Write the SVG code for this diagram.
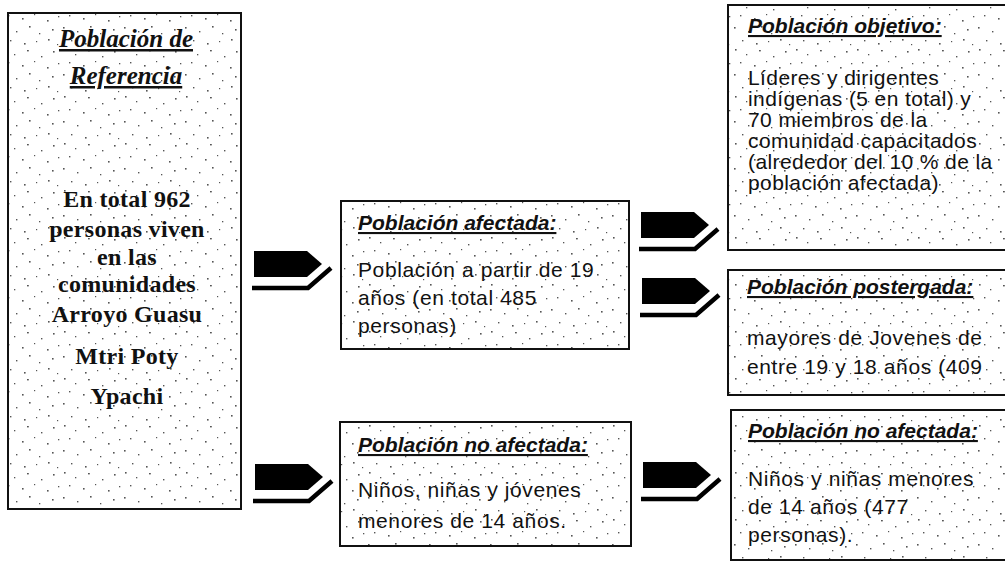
<svg xmlns="http://www.w3.org/2000/svg" width="1005" height="564" viewBox="0 0 1005 564">
<style>
.box{fill:url(#speckle);stroke:#111;stroke-width:2}
.ser{font-family:"Liberation Serif","Times New Roman",serif;font-weight:bold;fill:#111}
.ttl{font-style:italic;font-size:25px;text-decoration:underline}
.body{font-size:24px;letter-spacing:0.3px}
.sans{font-family:"Liberation Sans",Arial,sans-serif;fill:#111}
.h{font-weight:bold;font-style:italic;font-size:21px;text-decoration:underline}
.t{font-size:21px;letter-spacing:0.6px}
.t2{font-size:21px;letter-spacing:0.4px}
.arr{fill:#000}
.sh{fill:none;stroke:#000;stroke-width:4.5;stroke-linejoin:miter}
</style>
<defs>
<pattern id="speckle" width="61" height="47" patternUnits="userSpaceOnUse">
<rect width="61" height="47" fill="#fff"/>
<g fill="#555">
<rect x="3" y="2" width="1.6" height="1.6"/>
<rect x="14" y="7" width="1.3" height="1.3"/>
<rect x="27" y="3" width="1.8" height="1.4"/>
<rect x="41" y="9" width="1.4" height="1.4"/>
<rect x="53" y="4" width="1.6" height="1.6"/>
<rect x="8" y="15" width="1.4" height="1.4"/>
<rect x="22" y="18" width="1.6" height="1.6"/>
<rect x="34" y="14" width="1.2" height="1.2"/>
<rect x="47" y="20" width="1.6" height="1.6"/>
<rect x="58" y="16" width="1.3" height="1.3"/>
<rect x="2" y="27" width="1.6" height="1.6"/>
<rect x="16" y="31" width="1.4" height="1.4"/>
<rect x="29" y="26" width="1.6" height="1.6"/>
<rect x="39" y="33" width="1.3" height="1.3"/>
<rect x="52" y="29" width="1.6" height="1.6"/>
<rect x="10" y="40" width="1.4" height="1.4"/>
<rect x="24" y="43" width="1.6" height="1.6"/>
<rect x="36" y="41" width="1.2" height="1.2"/>
<rect x="48" y="39" width="1.6" height="1.6"/>
<rect x="57" y="44" width="1.2" height="1.2"/>
</g>
</pattern>
<g id="arrow">
<path class="arr" d="M0,0 H53 L68,13 L53,26 H0 Z"/>
<path class="sh" d="M-2,37 H54 L77,17"/>
</g>
</defs>
<rect width="1005" height="564" fill="#fff"/>

<g id="connectors">
<use href="#arrow" transform="translate(254,251)"/>
<use href="#arrow" transform="translate(255,464)"/>
<use href="#arrow" transform="translate(641,212)"/>
<use href="#arrow" transform="translate(642,278)"/>
<use href="#arrow" transform="translate(643,462)"/>
</g>

<g id="node-referencia">
<rect class="box" x="8" y="13" width="233" height="496"/>
<text class="ser ttl" x="126" y="47" text-anchor="middle">Población de</text>
<text class="ser ttl" x="126" y="84" text-anchor="middle">Referencia</text>
<g class="ser body" text-anchor="middle">
<text x="127" y="207">En total 962</text>
<text x="127" y="237">personas viven</text>
<text x="127" y="265">en las</text>
<text x="127" y="292">comunidades</text>
<text x="127" y="322">Arroyo Guasu</text>
<text x="127" y="364">Mtri Poty</text>
<text x="127" y="404">Ypachi</text>
</g>
</g>

<g id="node-afectada">
<rect class="box" x="341" y="201" width="288" height="148"/>
<text class="sans h" x="358" y="230">Población afectada:</text>
<g class="sans t">
<text x="358" y="277">Población a partir de 19</text>
<text x="358" y="305">años (en total 485</text>
<text x="358" y="333">personas)</text>
</g>
</g>

<g id="node-no-afectada">
<rect class="box" x="340" y="422" width="291" height="124"/>
<text class="sans h" x="358" y="452">Población no afectada:</text>
<g class="sans t">
<text x="358" y="497">Niños, niñas y jóvenes</text>
<text x="358" y="528">menores de 14 años.</text>
</g>
</g>

<g id="node-objetivo">
<rect class="box" x="728" y="5" width="290" height="245"/>
<text class="sans h" x="748" y="33">Población objetivo:</text>
<g class="sans t2">
<text x="748" y="85">Líderes y dirigentes</text>
<text x="748" y="106">indígenas (5 en total) y</text>
<text x="748" y="127">70 miembros de la</text>
<text x="748" y="148">comunidad capacitados</text>
<text x="748" y="169">(alrededor del 10 % de la</text>
<text x="748" y="190">población afectada)</text>
</g>
</g>

<g id="node-postergada">
<rect class="box" x="728" y="270" width="290" height="125"/>
<text class="sans h" x="747" y="294">Población postergada:</text>
<g class="sans t">
<text x="747" y="345">mayores de Jovenes de</text>
<text x="747" y="374">entre 19 y 18 años (409</text>
</g>
</g>

<g id="node-no-afectada-2">
<rect class="box" x="731" y="410" width="290" height="150"/>
<text class="sans h" x="748" y="438">Población no afectada:</text>
<g class="sans t">
<text x="748" y="486">Niños y niñas menores</text>
<text x="748" y="514">de 14 años (477</text>
<text x="748" y="542">personas).</text>
</g>
</g>
</svg>
